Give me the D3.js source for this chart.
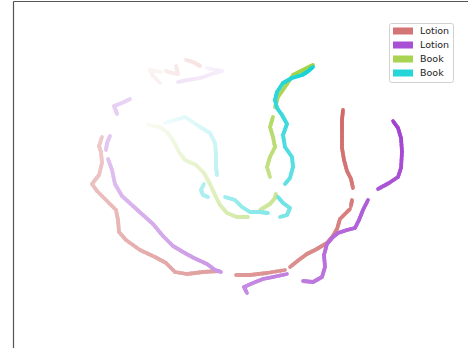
<!DOCTYPE html>
<html>
<head>
<meta charset="utf-8">
<script src="https://cdn.jsdelivr.net/npm/d3@7"></script>
<style>
  html, body { margin: 0; padding: 0; background: #fff; }
  svg { display: block; }
</style>
</head>
<body>
<script>
// Four trajectories in embedding space. Each is a list of segments (gaps between them).
const labels = ["Lotion", "Lotion", "Book", "Book"];
const colors = ["#CD5C5C", "#9932CC", "#9ACD32", "#00CED1"];

const lotionA = [
  [[14.8,28.9],[13.7,29.1],[14.0,28.5],[14.7,27.8]],
  [[15.3,29.0],[15.9,28.8],[16.5,28.7],[16.3,29.5]],
  [[17.3,30.1],[18.0,29.9],[18.7,29.5]],
  [[8.9,22.4],[8.6,21.5],[8.8,20.9],[8.9,19.8],[8.6,18.6],[7.9,17.7],[8.4,17.0],[9.4,16.0],[10.3,15.1],[10.5,14.1],[10.6,12.9],[11.3,12.1],[12.7,11.1],[14.2,10.4],[15.3,9.8],[16.2,8.9],[17.4,8.7],[19.0,8.9],[20.6,9.0]],
  [[22.3,8.6],[23.7,8.6],[25.4,8.8],[27.2,9.1]],
  [[27.7,9.4],[28.7,10.2],[29.4,10.7],[30.2,11.1],[31.4,11.8],[32.0,12.5],[32.4,13.2],[32.7,14.2],[33.4,14.9],[33.7,15.2]],
  [[33.8,15.5],[33.9,16.1]],
  [[34.0,17.3],[33.8,18.2],[33.4,19.0],[33.1,20.1],[32.9,21.3],[32.9,22.8],[32.9,24.1],[33.0,25.1]]
];

const lotionB = [
  [[19.4,29.3],[20.2,29.1],[20.9,29.0],[19.9,28.7],[18.7,28.3],[17.5,28.1],[16.5,27.9]],
  [[11.7,26.2],[10.9,25.8],[10.1,25.5],[10.3,25.0],[10.4,24.7]],
  [[9.7,22.5],[9.4,21.8],[9.3,21.1]],
  [[9.5,20.2],[9.9,19.1],[10.2,17.7],[10.9,16.5],[12.0,15.5],[13.0,14.6],[14.0,13.7],[15.0,12.5],[16.0,11.5],[17.0,10.9],[18.1,10.3],[19.4,9.7],[20.2,9.1],[20.8,8.9]],
  [[23.4,6.8],[23.1,7.4],[24.0,7.8],[25.0,8.2],[26.0,8.4],[27.4,8.7]],
  [[29.0,8.0],[30.0,7.9],[30.9,8.4],[31.2,9.4],[31.1,10.6],[31.4,11.7],[32.0,12.4],[32.5,12.8],[33.4,13.1],[34.2,13.3],[34.6,14.1],[35.0,15.1],[35.5,16.1]],
  [[36.5,17.2],[37.6,17.8],[38.5,18.4],[38.8,19.3],[38.9,20.9],[38.8,22.3],[38.5,23.3],[38.0,24.0]]
];

const bookA = [
  [[13.5,23.6],[14.7,23.4],[15.5,22.8],[16.1,21.9],[16.6,20.9],[17.2,20.1],[18.3,19.6],[19.1,18.8],[19.7,17.7],[20.2,16.6],[20.7,15.6],[21.4,14.8],[22.4,14.4],[23.5,14.4]],
  [[24.7,15.1],[25.7,15.7],[26.2,16.3],[26.3,16.7]],
  [[25.7,18.4],[25.4,19.4],[25.7,20.4],[26.2,21.4],[26.0,22.4],[25.7,23.4],[26.0,24.4]],
  [[26.2,25.4],[26.5,26.4],[27.2,27.4],[28.0,28.6],[29.0,29.1],[30.0,29.6]]
];

const bookB = [
  [[15.2,23.8],[16.2,24.1],[17.2,24.4],[18.7,23.4],[19.7,22.8],[20.2,21.8],[20.3,20.6],[20.3,19.4],[20.4,18.6]],
  [[19.1,17.7],[18.8,17.1],[19.0,16.6],[19.5,16.4]],
  [[21.2,16.4],[22.2,16.1],[22.9,15.4],[23.7,14.9],[24.7,14.9],[25.5,14.8]],
  [[26.7,14.4],[27.4,14.6],[27.7,15.3],[27.0,15.8],[26.5,16.4]],
  [[27.2,17.7],[27.7,18.3],[28.0,19.4],[27.9,20.4],[27.2,21.4],[27.0,22.6],[27.4,23.7],[26.9,24.6],[26.4,25.3],[26.2,26.1],[26.4,26.9],[27.0,27.8],[27.9,28.3],[28.9,28.6],[29.4,28.9],[30.0,29.4]]
];

const trajectories = [lotionA, lotionB, bookA, bookB];

const W = 468, H = 348;
const svg = d3.select("body").append("svg").attr("width", W).attr("height", H);

// Axes box runs past the right and bottom edges of the view.
const x = d3.scaleLinear().domain([0, 48]).range([13, 493]);
const y = d3.scaleLinear().domain([0, 36]).range([361, 1]);

const plot = svg.append("g");

// Each trajectory fades in along its length: faint at the start, strong at the end.
trajectories.forEach((segs, k) => {
  const fade = d3.interpolateRgb("#ffffff", colors[k]);
  // cumulative path length across all segments (gaps included)
  let total = 0, prev = null;
  const pieces = [];
  segs.forEach(seg => {
    seg.forEach((p, i) => {
      if (prev) {
        const d = Math.hypot(p[0] - prev[0], p[1] - prev[1]);
        if (i > 0) pieces.push({ a: prev, b: p, s0: total, s1: total + d });
        total += d;
      }
      prev = p;
    });
  });
  const g = plot.append("g");
  pieces.forEach(pc => {
    // split each piece into short steps so the fade is smooth
    const n = 4;
    for (let j = 0; j < n; j++) {
      const u0 = j / n, u1 = (j + 1) / n;
      const p0 = [pc.a[0] + (pc.b[0] - pc.a[0]) * u0, pc.a[1] + (pc.b[1] - pc.a[1]) * u0];
      const p1 = [pc.a[0] + (pc.b[0] - pc.a[0]) * u1, pc.a[1] + (pc.b[1] - pc.a[1]) * u1];
      const t = (pc.s0 + (pc.s1 - pc.s0) * (u0 + u1) / 2) / total;
      g.append("line")
        .attr("x1", x(p0[0])).attr("y1", y(p0[1]))
        .attr("x2", x(p1[0])).attr("y2", y(p1[1]))
        .attr("stroke", fade(0.06 + 0.86 * t))
        .attr("stroke-width", 3.8)
        .attr("stroke-linecap", "round");
    }
  });
});

// Spines (no ticks)
svg.append("g").attr("transform", `translate(${x(0)},0)`)
  .call(d3.axisLeft(y).tickValues([]).tickSizeOuter(0))
  .call(g => g.select(".domain").attr("stroke", "#555").attr("stroke-width", 1.2));
svg.append("g").attr("transform", `translate(0,${y(36)})`)
  .call(d3.axisTop(x).tickValues([]).tickSizeOuter(0))
  .call(g => g.select(".domain").attr("stroke", "#555").attr("stroke-width", 1.2));

// Legend
const legend = svg.append("g").attr("transform", "translate(389,23)");
legend.append("rect")
  .attr("x", 0.5).attr("y", 0.5).attr("width", 64).attr("height", 59)
  .attr("rx", 2).attr("fill", "#fff").attr("fill-opacity", 0.8)
  .attr("stroke", "#d0d0d0").attr("stroke-width", 1);
labels.forEach((lab, i) => {
  const row = legend.append("g").attr("transform", `translate(0,${8 + i * 14})`);
  row.append("rect").attr("x", 4).attr("y", -3.5).attr("width", 20).attr("height", 7)
    .attr("fill", colors[i]).attr("fill-opacity", 0.85);
  row.append("text").attr("x", 31).attr("y", 0).attr("dy", "0.35em")
    .attr("font-family", "DejaVu Sans, sans-serif").attr("font-size", 9.5)
    .attr("fill", "#222").text(lab);
});
</script>
</body>
</html>
